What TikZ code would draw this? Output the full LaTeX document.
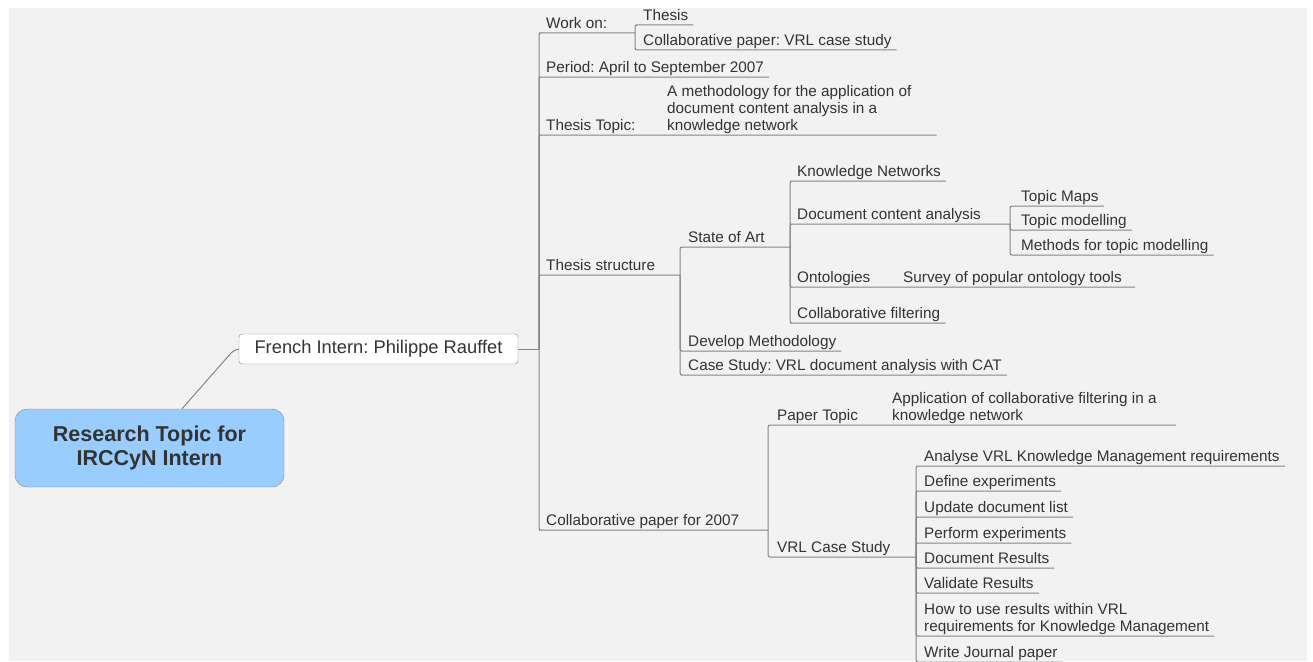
\documentclass[tikz,border=0pt]{standalone}
\usepackage{fontspec}
\setmainfont{Liberation Sans}
\frenchspacing
\definecolor{panel}{HTML}{F2F2F2}
\definecolor{linegray}{HTML}{858585}
\definecolor{txt}{HTML}{333333}
\definecolor{rootblue}{HTML}{99CCFF}

\tikzset
{%定义样式
  branch/.style={draw=linegray,line width=1pt,rounded corners=2pt},
  topic/.style={anchor=south west,inner xsep=5pt,inner ysep=4pt,text depth=0pt,text=txt,
    font=\fontsize{15.3}{17}\selectfont},
}

\begin{document}
\begin{tikzpicture}[x=1pt,y=-1pt]
\path[use as bounding box] (0,0) rectangle (1313,661);
\fill[panel] (9,8) rectangle (1307,661);

\node[draw=linegray,fill=rootblue,rounded corners=12pt,minimum width=269pt,minimum height=78pt,
  text=txt,align=center,font=\fontsize{21.5}{24}\selectfont\bfseries] (root) at (149.5,448)
  {Research Topic for\\IRCCyN Intern};
\node[draw=linegray,fill=white,rounded corners=3pt,minimum width=279pt,minimum height=30pt,
  text=txt,font=\fontsize{18.3}{20}\selectfont] (fr) at (378.5,349) {French Intern: Philippe Rauffet};
\draw[branch] ([xshift=32.5pt]root.north) -- ([xshift=-6pt,yshift=-2pt]fr.west) -- (fr.west);

\coordinate (jt) at (539,349);
\draw[branch] (fr.east) -- (jt);

\node[topic] (workon) at (541,33) {Work on:};
\node[topic] (period) at (541,77) {Period: April to September 2007};
\node[topic] (ttopic) at (541,135) {\makebox[121pt][l]{Thesis Topic:}\begin{tabular}[b]{@{}l@{}}A methodology for the application of\\document content analysis in a\\knowledge network\end{tabular}\hspace*{20pt}};
\node[topic] (tstruct) at (541,275) {Thesis structure};
\node[topic] (cpaper) at (541,530) {Collaborative paper for 2007};
\coordinate (woJ) at (635,33);
\coordinate (tsJ) at (680,275);
\coordinate (cpJ) at (768,530);
\draw[branch] (jt) |- (workon.south west) -- (woJ);
\draw[branch] (jt) |- (period.south west) -- (period.south east);
\draw[branch] (jt) |- (ttopic.south west) -- (ttopic.south east);
\draw[branch] (jt) |- (tstruct.south west) -- (tsJ);
\draw[branch] (jt) |- (cpaper.south west) -- (cpJ);

\node[topic] (thesis) at (638,25) {Thesis};
\node[topic] (cpvrl) at (638,50) {Collaborative paper: VRL case study};
\draw[branch] (woJ) |- (thesis.south west) -- (thesis.south east);
\draw[branch] (woJ) |- (cpvrl.south west) -- (cpvrl.south east);

\node[topic] (soa) at (683,247) {State of Art};
\node[topic] (devm) at (683,351) {Develop Methodology};
\node[topic] (cstudy) at (683,375) {Case Study: VRL document analysis with CAT};
\coordinate (soaJ) at (790,247);
\draw[branch] (tsJ) |- (soa.south west) -- (soaJ);
\draw[branch] (tsJ) |- (devm.south west) -- (devm.south east);
\draw[branch] (tsJ) |- (cstudy.south west) -- (cstudy.south east);

\node[topic] (kn) at (792,181) {Knowledge Networks};
\node[topic] (dca) at (792,224) {Document content analysis};
\node[topic] (onto) at (792,287) {\makebox[106pt][l]{Ontologies}Survey of popular ontology tools\hspace*{8pt}};
\node[topic] (cf) at (792,323) {Collaborative filtering};
\coordinate (dcaJ) at (1010,224);
\draw[branch] (soaJ) |- (kn.south west) -- (kn.south east);
\draw[branch] (soaJ) |- (dca.south west) -- (dcaJ);
\draw[branch] (soaJ) |- (onto.south west) -- (onto.south east);
\draw[branch] (soaJ) |- (cf.south west) -- (cf.south east);

\node[topic] (tmaps) at (1016,206) {Topic Maps};
\node[topic] (tmod) at (1016,230) {Topic modelling};
\node[topic] (mtm) at (1016,255) {Methods for topic modelling};
\draw[branch] (dcaJ) |- (tmaps.south west) -- (tmaps.south east);
\draw[branch] (dcaJ) |- (tmod.south west) -- (tmod.south east);
\draw[branch] (dcaJ) |- (mtm.south west) -- (mtm.south east);

\node[topic] (ptopic) at (772,425) {\makebox[115pt][l]{Paper Topic}\begin{tabular}[b]{@{}l@{}}Application of collaborative filtering in a\\knowledge network\end{tabular}\hspace*{14pt}};
\node[topic] (vrl) at (772,557) {VRL Case Study};
\coordinate (vrlJ) at (916,557);
\draw[branch] (cpJ) |- (ptopic.south west) -- (ptopic.south east);
\draw[branch] (cpJ) |- (vrl.south west) -- (vrlJ);

\node[topic] (analyse) at (919,466) {Analyse VRL Knowledge Management requirements};
\node[topic] (define) at (919,491) {Define experiments};
\node[topic] (update) at (919,517) {Update document list};
\node[topic] (perform) at (919,543) {Perform experiments};
\node[topic] (docres) at (919,568) {Document Results};
\node[topic] (validate) at (919,593) {Validate Results};
\node[topic] (howto) at (919,636) {\begin{tabular}[b]{@{}l@{}}How to use results within VRL\\requirements for Knowledge Management\end{tabular}};
\node[topic] (write) at (919,662) {Write Journal paper};
\draw[branch] (vrlJ) |- (analyse.south west) -- (analyse.south east);
\draw[branch] (vrlJ) |- (define.south west) -- (define.south east);
\draw[branch] (vrlJ) |- (update.south west) -- (update.south east);
\draw[branch] (vrlJ) |- (perform.south west) -- (perform.south east);
\draw[branch] (vrlJ) |- (docres.south west) -- (docres.south east);
\draw[branch] (vrlJ) |- (validate.south west) -- (validate.south east);
\draw[branch] (vrlJ) |- (howto.south west) -- (howto.south east);
\draw[branch] (vrlJ) |- (write.south west) -- (write.south east);
\end{tikzpicture}
\end{document}
